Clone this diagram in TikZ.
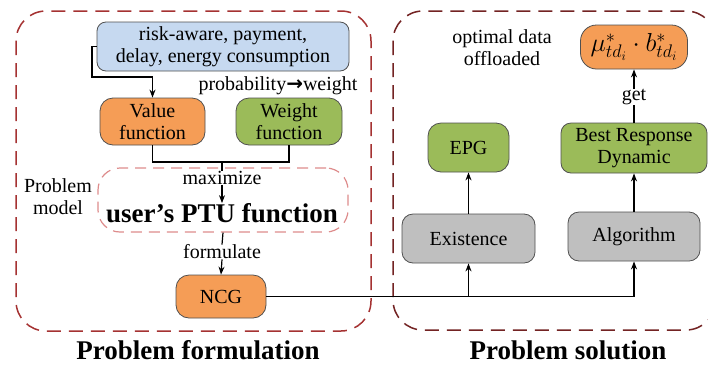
\RequirePackage{fix-cm}
\documentclass[tikz,border=0pt]{standalone}
\usepackage{fontspec}
\setmainfont{Liberation Serif}
\newfontfamily\arrowfont{DejaVu Sans}
\usetikzlibrary{arrows.meta}
\definecolor{orangeF}{RGB}{245,157,86}
\definecolor{greenF}{RGB}{155,187,89}
\definecolor{blueF}{RGB}{198,217,240}
\definecolor{grayF}{RGB}{191,191,191}
\definecolor{edgeC}{RGB}{80,80,80}
\definecolor{frameL}{RGB}{165,50,50}
\definecolor{frameR}{RGB}{115,35,35}
\definecolor{pinkD}{RGB}{222,140,140}
\tikzset{
  txt/.style={font=\fontsize{20}{22}\selectfont, align=center, inner sep=0pt},
  box/.style={txt, draw=edgeC, line width=0.8pt, rounded corners=13pt},
  obox/.style={box, fill=orangeF},
  gbox/.style={box, fill=greenF},
  bbox/.style={box, fill=blueF, rounded corners=9pt},
  ybox/.style={box, fill=grayF, rounded corners=11pt},
  frame/.style={dashed, dash pattern=on 14pt off 8pt, line width=1.5pt, rounded corners=30pt},
  arr/.style={-{Stealth[length=8pt,width=6pt]}, line width=1.2pt},
  ln/.style={line width=1.2pt},
  title/.style={font=\fontsize{27}{30}\selectfont\bfseries, inner sep=0pt}
}
\begin{document}
\begin{tikzpicture}[x=1pt,y=-1pt]
\useasboundingbox (0,0) rectangle (708,365);
\fill[white] (0,0) rectangle (708,365);

% outer dashed frames
\draw[frame, frameL] (16,11) rectangle (371,331);
\draw[frame, frameR] (393,11) rectangle (716,330);

% problem formulation side
\node[bbox, minimum width=252pt, minimum height=49pt] (cost) at (223,46.5)
  {risk-aware, payment,\\delay, energy consumption};
\node[obox, minimum width=105pt, minimum height=47pt] (value) at (152.5,121.5) {Value\\function};
\node[gbox, minimum width=106pt, minimum height=47pt] (weight) at (289,121.5) {Weight\\function};
\node[txt] (probw) at (278,86) {probability{\arrowfont\bfseries →}weight};
\node[draw=pinkD, dashed, dash pattern=on 11pt off 7pt, line width=1.2pt, rounded corners=22pt,
      minimum width=250pt, minimum height=64pt] (pinkbox) at (223,200) {};
\node[txt] (maxl) at (222,178) {maximize};
\node[title] (ptu) at (222,213) {user’s PTU function};
\node[txt] (model) at (58,197) {Problem\\model};
\node[txt] (forml) at (222,252) {formulate};
\node[obox, minimum width=90pt, minimum height=43pt] (ncg) at (221,296.5) {NCG};
\coordinate (join) at (222,162);
\coordinate (bend) at (92,77);

% problem solution side
\node[ybox, minimum width=133pt, minimum height=49pt] (exist) at (468.5,238.5) {Existence};
\node[ybox, minimum width=132pt, minimum height=49pt] (alg) at (634,236.5) {Algorithm};
\node[gbox, minimum width=81pt, minimum height=49pt] (epg) at (468.5,147.5) {EPG};
\node[gbox, minimum width=146pt, minimum height=50pt, rounded corners=10pt] (brd) at (634,148) {Best Response\\Dynamic};
\node[obox, minimum width=107pt, minimum height=44pt, rounded corners=16pt,
      font=\fontsize{26}{28}\selectfont] (mu) at (634,47)
  {$\mu^{*}_{td_i}\cdot b^{*}_{td_i}$};
\node[txt] (getl) at (634,97) {get};
\node[txt] (optl) at (502,48) {optimal data\\offloaded};

% connectors
\draw[arr] (cost.west) -- (cost.west -| bend) -- (bend) -- (bend -| value.north) -- (value.north);
\draw[ln] (value.south) |- (join) -| (weight.south);
\draw[ln] (join) -- (maxl.north);
\draw[arr] (maxl.south) -- (ptu.north);
\draw[ln] (pinkbox.south) -- (forml.north);
\draw[arr] (forml.south) -- (ncg.north);
\draw[arr] (ncg.east) -| (alg.south);
\draw[arr] (ncg.east -| exist.south) -- (exist.south);
\draw[arr] (exist.north) -- (epg.south);
\draw[arr] (alg.north) -- (brd.south);
\draw[ln] (brd.north) -- (getl.south);
\draw[arr] (getl.north) -- (mu.south);

% section titles
\node[title] (tform) at (198,350) {Problem formulation};
\node[title] (tsol) at (568,350) {Problem solution};
\end{tikzpicture}
\end{document}
